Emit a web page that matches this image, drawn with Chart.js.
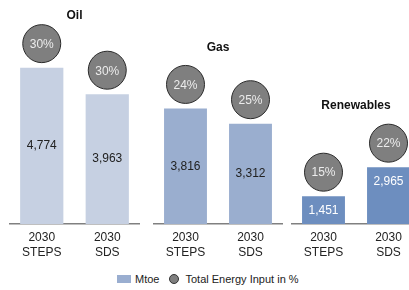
<!DOCTYPE html>
<html>
<head>
<meta charset="utf-8">
<script src="https://cdn.jsdelivr.net/npm/chart.js@4"></script>
<style>
  body { margin: 0; width: 409px; height: 290px; overflow: hidden; background: #fff; position: relative; font-family: "Liberation Sans", Arial, sans-serif; }
  canvas { position: absolute; top: 0; }
  #legend { position: absolute; top: 273px; left: 117px; font-size: 11px; color: #222; display: flex; align-items: center; white-space: nowrap; }
  .sw { display: inline-block; width: 14px; height: 8px; background: #9aaed0; margin-right: 4px; }
  .dot { display: inline-block; width: 8px; height: 8px; border-radius: 50%; background: #7f7f7f; border: 1px solid #333; margin: 0 6px 0 10px; }
</style>
</head>
<body>
<canvas id="oilChart" width="131" height="266" style="left:9px"></canvas>
<canvas id="gasChart" width="130" height="266" style="left:153px"></canvas>
<canvas id="renChart" width="130" height="266" style="left:291px"></canvas>
<div id="legend"><span class="sw"></span>Mtoe<span class="dot"></span>Total Energy Input in %</div>

<script>
const scenarios = [['2030', 'STEPS'], ['2030', 'SDS']];
const oilMtoe = [4774, 3963];
const gasMtoe = [3816, 3312];
const renMtoe = [1451, 2965];
const oilShare = [30, 30];
const gasShare = [24, 25];
const renShare = [15, 22];

const fontFamily = '"Liberation Sans", Arial, sans-serif';

// circles with the % share, sitting above each bar + value labels inside bars
const barLabels = {
    id: 'barLabels',
    afterDatasetsDraw(chart, args, opts) {
        const ctx = chart.ctx;
        const meta = chart.getDatasetMeta(0);
        ctx.save();
        meta.data.forEach((bar, i) => {
            // value inside bar
            const v = chart.data.datasets[0].data[i];
            const ly = opts.inside ? bar.y + 15 : (bar.y + bar.base) / 2;
            ctx.font = '12px ' + fontFamily;
            ctx.fillStyle = opts.valueColor;
            ctx.textAlign = 'center';
            ctx.textBaseline = 'middle';
            ctx.fillText(v.toLocaleString('en-US'), bar.x, ly);

            // share bubble
            const cy = bar.y - 24;
            ctx.beginPath();
            ctx.arc(bar.x, cy, 19, 0, Math.PI * 2);
            ctx.fillStyle = '#7f7f7f';
            ctx.fill();
            ctx.lineWidth = 1;
            ctx.strokeStyle = '#2b2b2b';
            ctx.stroke();
            ctx.fillStyle = '#ececec';
            ctx.fillText(opts.shares[i] + '%', bar.x, cy + 1);
        });
        ctx.restore();
    }
};

function drawPanel(id, title, values, shares, color, yMax, titleTop, inside) {
    const ctx = document.getElementById(id).getContext('2d');
    return new Chart(ctx, {
        type: 'bar',
        data: { labels: scenarios, datasets: [{ data: values, backgroundColor: color, categoryPercentage: 1, barPercentage: 0.66 }] },
        options: {
            responsive: false,
            animation: false,
            layout: { padding: 0 },
            plugins: {
                legend: { display: false },
                tooltip: { enabled: false },
                title: { display: true, text: title, color: '#111', font: { family: fontFamily, size: 12, weight: 'bold' }, padding: { top: titleTop, bottom: 10 } },
                barLabels: { shares: shares, inside: inside, valueColor: inside ? '#fff' : '#222' }
            },
            scales: {
                x: {
                    grid: { display: false, drawTicks: false },
                    border: { display: true, color: '#808080', width: 1.5 },
                    ticks: { color: '#222', padding: 6, maxRotation: 0, font: { family: fontFamily, size: 12, lineHeight: 1.25 } }
                },
                y: { display: false, min: 0, max: yMax }
            }
        },
        plugins: [barLabels]
    });
}

drawPanel('oilChart', 'Oil', oilMtoe, oilShare, '#c6d0e2', 5850, 8, false);
drawPanel('gasChart', 'Gas', gasMtoe, gasShare, '#9aaecf', 5270, 40, false);
drawPanel('renChart', 'Renewables', renMtoe, renShare, '#6d8ebf', 5300, 98, true);
</script>
</body>
</html>
